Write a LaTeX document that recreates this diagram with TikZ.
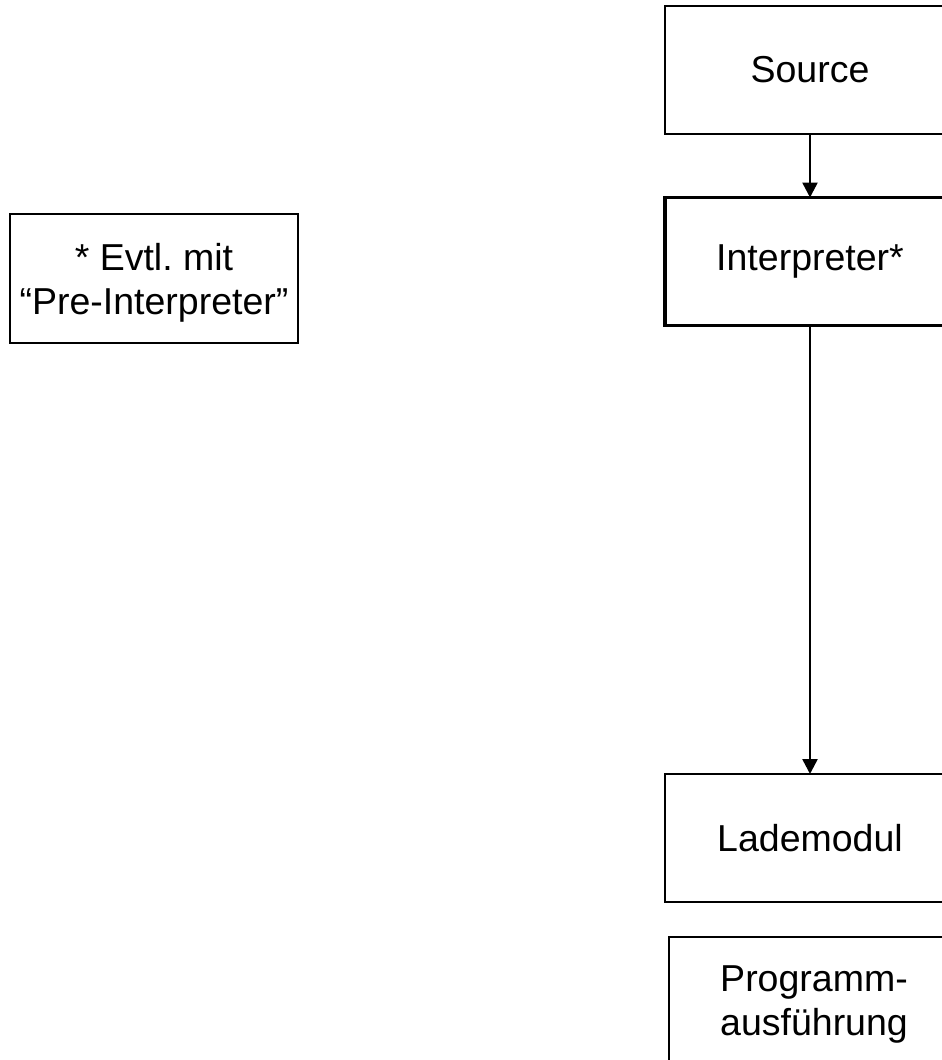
\documentclass[tikz,border=0pt]{standalone}
\usepackage{fontspec}
\setmainfont{Liberation Sans}
\usetikzlibrary{arrows.meta}
\frenchspacing
\begin{document}
\begin{tikzpicture}[x=1pt,y=-1pt,
  box/.style={draw=black,line width=1.7pt,rectangle,inner sep=0pt,outer sep=0pt,
    minimum width=290pt,minimum height=128pt,align=center,
    font=\fontsize{37.5}{44}\selectfont},
  twoline/.style={box,text depth=0pt},
  mainbox/.style={box,line width=3.5pt},
  flow/.style={line width=2.5pt,-{Triangle[length=15pt,width=15pt]}}]
\useasboundingbox (0,0) rectangle (942,1060);
\clip (0,0) rectangle (942,1060);
\node[box] (src) at (810,70) {Source};
\node[mainbox] (interp) at (810,261.5) {Interpreter*};
\node[box] (lade) at (810,838) {Lademodul};
\node[twoline] (exec) at (814,1001) {Programm-\\ausführung};
\node[twoline,minimum width=288pt,minimum height=129pt] (note) at (154,278.5) {* Evtl.\ mit\\“Pre-Interpreter”};
\draw[flow] (src.south -| 810,0) -- (interp.north -| 810,0);
\draw[flow] (interp.south -| 810,0) -- (lade.north -| 810,0);
\end{tikzpicture}
\end{document}
